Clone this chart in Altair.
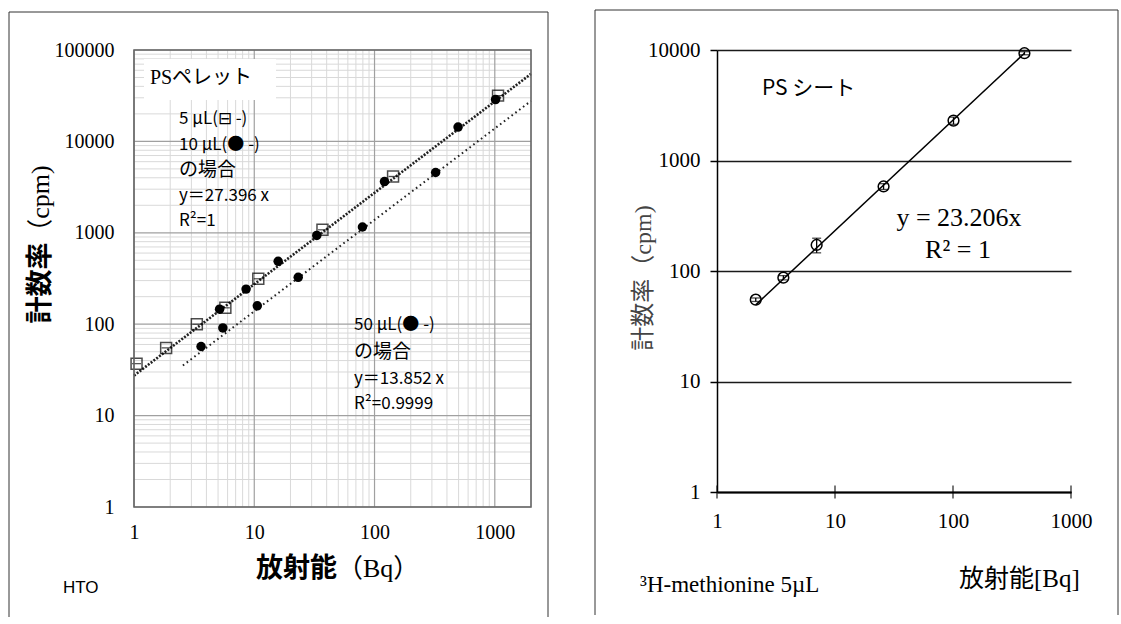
import altair as alt
import pandas as pd

# ---------------- data: left panel (HTO, PS pellet) ----------------
sq5_x = [1.05, 1.85, 3.33, 5.75, 10.8, 36.9, 142.6, 1064]
sq5_y = [37, 55, 100, 151, 314, 1078, 4138, 31700]
c10_x = [5.15, 8.55, 15.8, 33.1, 121, 495, 1014]
c10_y = [146, 242, 488, 937, 3631, 14350, 28700]
c50_x = [3.61, 5.48, 10.6, 23.2, 79.3, 322]
c50_y = [57, 91, 159, 326, 1157, 4570]
fit_hi_x = [1, 2000]
fit_hi_y = [27.4, 54790]
fit_lo_x = [2.55, 2000]
fit_lo_y = [35.3, 27700]
left_x_ticks = [1, 10, 100, 1000]
left_y_ticks = [1, 10, 100, 1000, 10000, 100000]
minor_mult = [2, 3, 4, 5, 6, 7, 8, 9]

# ---------------- data: right panel (3H-methionine, PS sheet) ----------------
met_x = [2.13, 3.65, 6.99, 25.8, 101, 403]
met_y = [55, 87, 172, 582, 2296, 9355]
met_err = [2, 4, 26, 35, 170, 300]
fit_r_x = [2.13, 403]
fit_r_y = [49.4, 9352]
right_x_ticks = [1, 10, 100, 1000]
right_y_ticks = [1, 10, 100, 1000, 10000]

W1, H1 = 397, 457
W2, H2 = 354, 442

SERIF = "Liberation Serif, Noto Sans CJK JP"
JP = "Noto Sans CJK JP"

one = pd.DataFrame({"a": [0]})


def txt(s, x, y, size, font=JP, align="left", weight="normal", color="black", angle=0):
    kw = dict(align=align, baseline="middle", fontSize=size, font=font,
              fontWeight=weight, color=color)
    if angle:
        kw["angle"] = angle
    return alt.Chart(one).mark_text(**kw).encode(
        x=alt.value(x), y=alt.value(y), text=alt.value(s))


def box(x1, x2, y1, y2, stroke="black", sw=1.0, fill="transparent"):
    return alt.Chart(one).mark_rect(fill=fill, stroke=stroke, strokeWidth=sw).encode(
        x=alt.value(x1), x2=alt.value(x2), y=alt.value(y1), y2=alt.value(y2))


def open_border(x1, x2, y1, y2, color="#333333", sw=1.0):
    lv = alt.Chart(one).mark_rule(color=color, strokeWidth=sw).encode(
        x=alt.value(x1), y=alt.value(y1), y2=alt.value(y2))
    rv = alt.Chart(one).mark_rule(color=color, strokeWidth=sw).encode(
        x=alt.value(x2), y=alt.value(y1), y2=alt.value(y2))
    th = alt.Chart(one).mark_rule(color=color, strokeWidth=sw).encode(
        x=alt.value(x1), x2=alt.value(x2), y=alt.value(y1))
    return [lv, rv, th]


# ---------------- left panel ----------------
xs1 = alt.Scale(type="log", domain=[1, 2000], nice=False)
ys1 = alt.Scale(type="log", domain=[1, 100000], nice=False)
ax1x = alt.Axis(values=left_x_ticks, format="d", grid=False, ticks=False, domain=False,
                labelFont="Liberation Serif", labelFontSize=20, labelColor="black",
                labelPadding=15, labelFlush=False, labelOverlap=False, title=None)
ax1y = alt.Axis(values=left_y_ticks, format="d", grid=False, ticks=False, domain=False,
                labelFont="Liberation Serif", labelFontSize=20, labelColor="black",
                labelPadding=20, labelFlush=False, labelOverlap=False, title=None)

minor_x = pd.DataFrame({"v": [m * d for d in [1, 10, 100, 1000] for m in minor_mult if m * d <= 2000]})
minor_y = pd.DataFrame({"v": [m * d for d in [1, 10, 100, 1000, 10000] for m in minor_mult]})
major_x = pd.DataFrame({"v": left_x_ticks})
major_y = pd.DataFrame({"v": left_y_ticks})

g_minor_x = alt.Chart(minor_x).mark_rule(color="#d9d9d9", strokeWidth=1).encode(
    x=alt.X("v:Q", scale=xs1, axis=ax1x))
g_minor_y = alt.Chart(minor_y).mark_rule(color="#d9d9d9", strokeWidth=1).encode(
    y=alt.Y("v:Q", scale=ys1, axis=ax1y))
g_major_x = alt.Chart(major_x).mark_rule(color="#a0a0a0", strokeWidth=1.2).encode(
    x=alt.X("v:Q", scale=xs1, axis=ax1x))
g_major_y = alt.Chart(major_y).mark_rule(color="#a0a0a0", strokeWidth=1.2).encode(
    y=alt.Y("v:Q", scale=ys1, axis=ax1y))

ps_box = box(10, 142, 9, 50, stroke="white", sw=0, fill="white")

fit_hi = alt.Chart(pd.DataFrame({"x": fit_hi_x, "y": fit_hi_y})).mark_line(
    color="#222222", strokeWidth=2.6, strokeDash=[2, 1.5]).encode(
    x=alt.X("x:Q", scale=xs1, axis=ax1x), y=alt.Y("y:Q", scale=ys1, axis=ax1y))
fit_lo = alt.Chart(pd.DataFrame({"x": fit_lo_x, "y": fit_lo_y})).mark_line(
    color="#222222", strokeWidth=2.0, strokeDash=[1.6, 3.2]).encode(
    x=alt.X("x:Q", scale=xs1, axis=ax1x), y=alt.Y("y:Q", scale=ys1, axis=ax1y))

pts_sq = alt.Chart(pd.DataFrame({"x": sq5_x, "y": sq5_y})).mark_point(
    shape="square", filled=False, size=120, color="black", strokeWidth=1.5).encode(
    x=alt.X("x:Q", scale=xs1, axis=ax1x), y=alt.Y("y:Q", scale=ys1, axis=ax1y))
sq_mid = alt.Chart(pd.DataFrame({"x": sq5_x, "y": sq5_y})).mark_tick(
    color="black", thickness=1.2, size=9, orient="horizontal").encode(
    x=alt.X("x:Q", scale=xs1, axis=ax1x), y=alt.Y("y:Q", scale=ys1, axis=ax1y))
pts_c10 = alt.Chart(pd.DataFrame({"x": c10_x, "y": c10_y})).mark_circle(
    size=90, color="black", opacity=1).encode(
    x=alt.X("x:Q", scale=xs1, axis=ax1x), y=alt.Y("y:Q", scale=ys1, axis=ax1y))
pts_c50 = alt.Chart(pd.DataFrame({"x": c50_x, "y": c50_y})).mark_circle(
    size=90, color="black", opacity=1).encode(
    x=alt.X("x:Q", scale=xs1, axis=ax1x), y=alt.Y("y:Q", scale=ys1, axis=ax1y))

left_texts = [
    txt("PSペレット", 67, 28, 20, font=SERIF, align="center"),
    txt("5 µL(⊟ -)", 45, 69, 17),
    txt("10 µL(● -)", 45, 95, 17),
    txt("の場合", 45, 120, 19),
    txt("y＝27.396 x", 45, 146, 17),
    txt("R²=1", 45, 171, 17),
    txt("50 µL(● -)", 220, 275, 17),
    txt("の場合", 220, 302, 19),
    txt("y＝13.852 x", 220, 329, 17),
    txt("R²=0.9999", 220, 354, 17),
    txt("HTO", -71, 538, 17, font="Liberation Sans"),
    txt("計数率", -93, 233, 27, weight="bold", align="center", angle=270),
    txt("（cpm)", -93, 155, 26, font=SERIF, align="center", angle=270),
    txt("放射能", 203, 519, 27, weight="bold", align="right"),
    txt("（Bq）", 203, 519, 26, font=SERIF, align="left"),
]

left_frame = box(0, W1, 0, H1, stroke="#666666", sw=1.6)
left_border = open_border(-125, 414, -38, 567)

left = alt.layer(
    g_minor_x, g_minor_y, g_major_x, g_major_y, ps_box, fit_hi, fit_lo,
    pts_sq, sq_mid, pts_c10, pts_c50, *left_texts, left_frame, *left_border
).properties(width=W1, height=H1)

# ---------------- right panel ----------------
xs2 = alt.Scale(type="log", domain=[1, 1000], nice=False)
ys2 = alt.Scale(type="log", domain=[1, 10000], nice=False)
ax2x = alt.Axis(values=right_x_ticks, format="d", grid=False, ticks=False, domain=True,
                domainColor="black", domainWidth=2,
                labelFont="Liberation Serif", labelFontSize=21, labelColor="black",
                labelPadding=18, labelFlush=False, labelOverlap=False, title=None)
ax2y = alt.Axis(values=right_y_ticks, format="d", grid=True, gridColor="#1a1a1a", gridWidth=1.6,
                gridOpacity=1, ticks=True, tickSize=7, tickColor="black", tickWidth=1.5,
                domain=True, domainColor="black", domainWidth=1.5,
                labelFont="Liberation Serif", labelFontSize=21, labelColor="black",
                labelPadding=10, labelFlush=False, labelOverlap=False, title=None)

met = pd.DataFrame({"x": met_x, "y": met_y, "e": met_err})
met["lo"] = met["y"] - met["e"]
met["hi"] = met["y"] + met["e"]

xticks2 = alt.Chart(pd.DataFrame({"v": right_x_ticks})).mark_tick(
    color="black", thickness=1.5, size=13).encode(
    x=alt.X("v:Q", scale=xs2, axis=ax2x), y=alt.value(H2))

fit_r = alt.Chart(pd.DataFrame({"x": fit_r_x, "y": fit_r_y})).mark_line(
    color="black", strokeWidth=1.5).encode(
    x=alt.X("x:Q", scale=xs2, axis=ax2x), y=alt.Y("y:Q", scale=ys2, axis=ax2y))
err_r = alt.Chart(met).mark_rule(color="black", strokeWidth=1.3).encode(
    x=alt.X("x:Q", scale=xs2, axis=ax2x), y=alt.Y("lo:Q", scale=ys2, axis=ax2y), y2="hi:Q")
cap_lo = alt.Chart(met).mark_tick(color="black", thickness=1.3, size=9, orient="horizontal").encode(
    x=alt.X("x:Q", scale=xs2, axis=ax2x), y=alt.Y("lo:Q", scale=ys2, axis=ax2y))
cap_hi = alt.Chart(met).mark_tick(color="black", thickness=1.3, size=9, orient="horizontal").encode(
    x=alt.X("x:Q", scale=xs2, axis=ax2x), y=alt.Y("hi:Q", scale=ys2, axis=ax2y))
pts_r = alt.Chart(met).mark_point(shape="circle", filled=False, size=115, color="black",
                                  strokeWidth=1.5, opacity=1).encode(
    x=alt.X("x:Q", scale=xs2, axis=ax2x), y=alt.Y("y:Q", scale=ys2, axis=ax2y))

right_texts = [
    txt("PS シート", 45, 39, 21),
    txt("y = 23.206x", 242, 168, 26, font="Liberation Serif", align="center"),
    txt("R² = 1", 241, 200, 26, font="Liberation Serif", align="center"),
    txt("計数率（cpm)", -73, 228, 24, font=SERIF, align="center", color="#444444", angle=270),
    txt("³H-methionine 5µL", -77, 535, 23, font="Liberation Serif"),
    txt("放射能[Bq]", 242, 529, 25, font=SERIF),
]
right_border = open_border(-122, 401, -40, 565)

right = alt.layer(
    xticks2, fit_r, err_r, cap_lo, cap_hi, pts_r, *right_texts, *right_border
).properties(width=W2, height=H2)

chart = alt.hconcat(left, right, spacing=45).properties(
    padding={"left": 8, "top": 9, "right": 0, "bottom": 0},
    background="white",
).configure_view(strokeWidth=0)

chart.save("out.html", embed_options={"renderer": "svg", "actions": False})
